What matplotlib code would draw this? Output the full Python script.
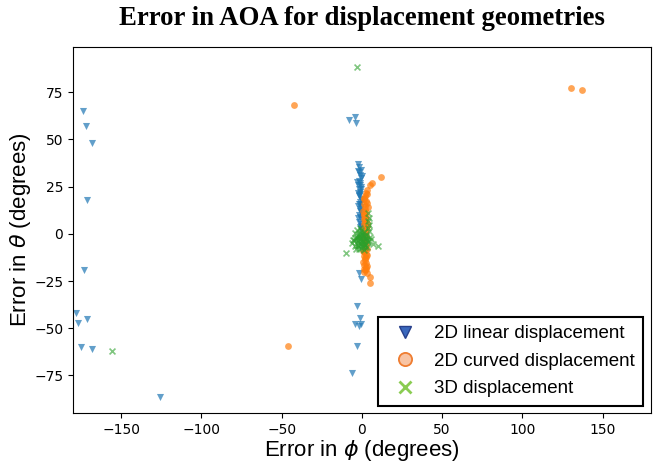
import matplotlib
matplotlib.use("Agg")
import matplotlib.pyplot as plt
from matplotlib.lines import Line2D

# ── Podaci: greska u phi / theta (stepeni) ───────────────────
lin_phi = [-174, -172, -168, -171, -173, -178, -177, -171, -175, -168, -126,
           -8, -4, -3.7,
           -2.3, -1.5, -0.8, -2.0, -1.2, -0.5, -1.8, -1.0, -2.2, -0.3, -1.6,
           -0.9, -1.4, -2.1, -0.6, -1.1, -1.9, -0.4, -1.3, -0.7, -1.7, -1.0,
           -0.2, -1.5, -0.8, -1.2, -0.5, -1.8, -0.9, -1.1,
           -2.6, -0.1, -2.8, -0.4, -2.4, -0.2, -2.7, -1.4, -2.5, -0.6,
           -1.7, -0.8, -3.0, -1.0, -4.4, -1.7, -0.6, -3.0, -6.0]
lin_theta = [65.3, 57.1, 48.1, 18.0, -19.0, -42.0, -47.0, -45.0, -60.0, -61.0, -86.5,
             60.3, 61.8, 58.6,
             37.0, 35.5, 34.0, 32.8, 31.0, 29.5, 28.2, 27.0, 25.8, 24.6, 23.5,
             22.4, 21.0, 19.8, 18.5, 17.0, 15.6, 14.2, 13.0, 11.5, 10.2, 9.0,
             7.6, 6.2, 5.0, 3.8, 2.4, 20.5, 26.0, 16.0,
             33.2, 30.4, 27.6, 24.0, 21.8, 18.0, 14.8, 12.2, 8.4, 4.4,
             -20.5, -23.7, -38.4, -44.4, -48.0, -48.8, -48.0, -59.2, -73.5]

curv_phi = [-42, 130.5, 137, -46, 12.2, 6.0, 5.0,
            3.0, 2.5, 2.0, 1.5, 2.8, 1.2, 2.2, 1.8, 2.6, 1.0, 2.4, 1.6,
            2.0, 1.4, 2.9, 1.1, 2.3, 1.7, 2.5, 0.9, 2.1, 1.3, 2.7, 1.9,
            2.2, 1.5, 2.6, 1.0, 2.0, 1.8, 2.4, 1.2, 2.8, 1.6, 2.1, 1.4,
            2.5, 1.9, 2.3, 1.7, 2.9, 2.6, 3.2,
            3.4, 0.8, 3.1, 1.0, 3.3, 0.7, 3.0, 1.2, 3.5, 0.9, 3.2, 1.1,
            5.0, 5.0]
curv_theta = [68.3, 77.3, 76.2, -59.6, 29.9, 27.0, 25.8,
              23.0, 21.5, 20.0, 18.6, 17.2, 15.8, 14.5, 13.0, 11.6, 10.3, 9.0, 7.8,
              6.5, 5.2, 4.0, 2.8, 1.5, 0.3, -1.0, -2.2, -3.5, -4.8, -6.0, -7.3,
              -8.5, -9.6, -10.8, -11.9, -13.0, -14.1, -15.2, -16.3, -17.4, -18.4,
              -19.3, -20.2, -12.5, -5.5, 3.3, 8.2, 16.4, -18.8, -21.0,
              21.0, 12.0, 6.0, -1.5, -7.8, -14.8, -17.0, 19.0, 14.0, -9.0, -11.0, 10.0,
              -23.0, -26.3]

d3_phi = [-3.3, -156, -10.0, 10.1,
          4.0, 4.3, 3.7, 4.5, 4.1,
          -6.4, -5.0, -4.0, -3.2, -2.5, -1.8, -1.0, -0.3, 0.5, 1.2, 2.0, 2.8,
          3.6, 4.5, 5.6, 7.0, -4.5, -2.8, -1.2, 0.2, 1.6, 3.0, -3.6, -2.0,
          -0.6, 0.8, 2.4, -5.5, -1.5, 1.0, 3.3, 5.2, -2.2, 0.0, 2.0, -0.8,
          -3.0, -1.6, -0.2, 1.4, 2.6, -2.4, -0.9, 0.6, 1.8, -4.2, 3.8, -1.3,
          0.3, 1.1, -2.6, -0.5]
d3_theta = [88.5, -62.0, -10.0, -6.5,
            10.8, 8.5, 6.6, 4.8, 3.0,
            -5.0, -3.0, -6.5, -1.5, -4.2, -7.8, -2.5, -5.5, -0.8, -3.8, -6.0, -2.0,
            -4.5, 1.5, -2.8, -5.2, 0.5, 1.8, 2.9, 0.0, -8.6, -7.2, -8.0, -0.2,
            2.2, -7.0, -0.6, -3.5, -1.0, 1.0, -3.2, -1.8, -5.8, -4.0, -6.8, 0.8,
            -2.4, -4.8, -3.0, -5.5, -1.2, -6.2, -1.6, -4.4, -2.6, -2.0, -3.6, -0.4,
            -6.0, -1.4, -3.4, -7.4]

labels = ["2D linear displacement", "2D curved displacement", "3D displacement"]

# ── Crtanje ──────────────────────────────────────────────────
fig = plt.figure(figsize=(6.58, 4.70), dpi=100)
ax = fig.add_axes([0.111, 0.121, 0.878, 0.779])

ax.scatter(lin_phi, lin_theta, marker='v', s=26, color='#1f77b4', alpha=0.7, linewidths=0)
ax.scatter(curv_phi, curv_theta, marker='o', s=24, color='#ff7f0e', alpha=0.7, linewidths=0)
ax.scatter(d3_phi, d3_theta, marker='x', s=18, color='#2ca02c', alpha=0.6, linewidths=1.2)

ax.set_xlim(-180, 180)
ax.set_ylim(-95, 99)
ax.set_xticks([-150, -100, -50, 0, 50, 100, 150])
ax.set_yticks([-75, -50, -25, 0, 25, 50, 75])

ax.set_xlabel(r"Error in $\phi$ (degrees)", fontsize=16, family='Liberation Sans', labelpad=1)
ax.set_ylabel(r"Error in $\theta$ (degrees)", fontsize=16, family='Liberation Sans', labelpad=1)
ax.set_title("Error in AOA for displacement geometries", fontsize=19.3,
             family='Liberation Serif', fontweight='bold', pad=16)

handles = [
    Line2D([], [], linestyle='none', marker='v', markersize=9,
           markerfacecolor='#3a68bd', markeredgecolor='#27408b'),
    Line2D([], [], linestyle='none', marker='o', markersize=9.5,
           markerfacecolor='#f8c4a4', markeredgecolor='#ef7d31', markeredgewidth=1.3),
    Line2D([], [], linestyle='none', marker='x', markersize=8,
           color='#8acc52', markeredgewidth=2),
]
leg = ax.legend(handles, labels, loc='lower right', fancybox=False, framealpha=1,
                edgecolor='black', prop={'family': 'Liberation Sans', 'size': 13.5},
                handlelength=2.0, handletextpad=0.55, labelspacing=0.55, borderpad=0.45,
                borderaxespad=0.4)
leg.get_frame().set_linewidth(1.5)

plt.savefig("out.png", dpi=100)
plt.close()
